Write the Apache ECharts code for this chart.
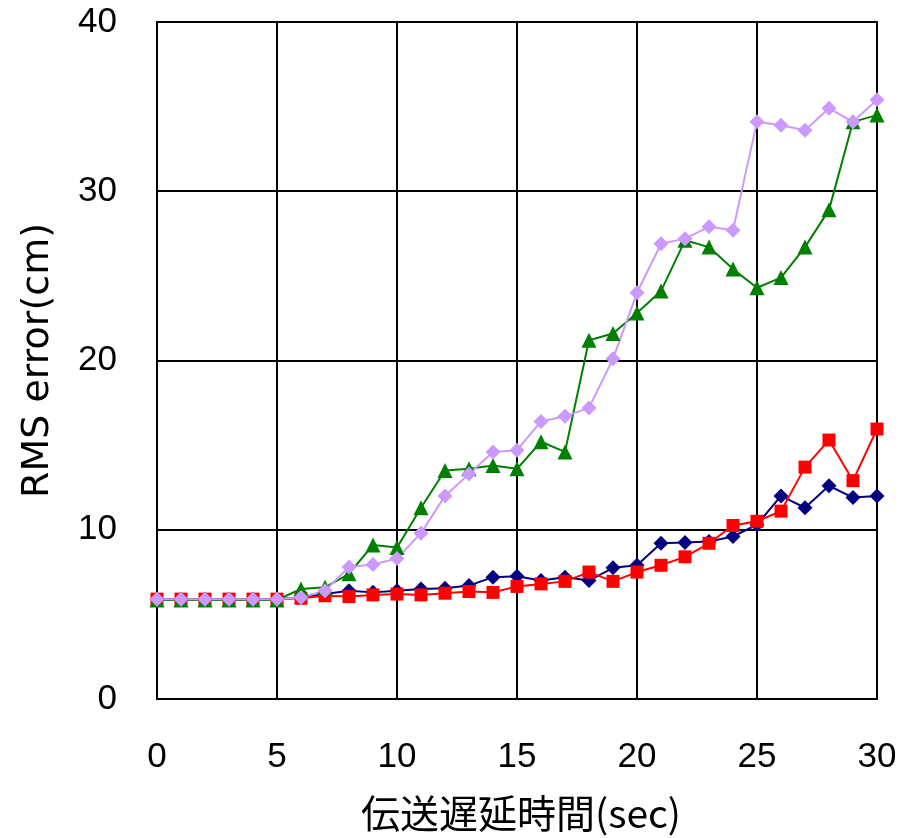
<!DOCTYPE html>
<html><head><meta charset="utf-8">
<script src="https://cdn.jsdelivr.net/npm/echarts@6/dist/echarts.min.js"></script>
<style>html,body{margin:0;padding:0;background:#fff}#c{width:915px;height:838px}</style>
</head><body><div id="c"></div>
<script>
const delays = [0,1,2,3,4,5,6,7,8,9,10,11,12,13,14,15,16,17,18,19,20,21,22,23,24,25,26,27,28,29,30];
const navySeries = [5.9,5.9,5.9,5.9,5.9,5.9,6.0,6.2,6.4,6.3,6.4,6.5,6.55,6.7,7.2,7.25,7.0,7.2,7.0,7.75,7.9,9.2,9.25,9.3,9.6,10.3,12.0,11.3,12.6,11.9,12.0];
const redSeries = [5.9,5.9,5.9,5.9,5.9,5.9,5.95,6.1,6.05,6.15,6.2,6.15,6.25,6.35,6.3,6.65,6.8,6.95,7.5,6.95,7.5,7.9,8.4,9.2,10.25,10.5,11.1,13.7,15.3,12.9,15.95];
const greenSeries = [5.85,5.85,5.85,5.85,5.85,5.85,6.5,6.6,7.4,9.1,8.95,11.3,13.5,13.6,13.8,13.6,15.2,14.6,21.2,21.6,22.8,24.1,27.1,26.7,25.4,24.3,24.9,26.7,28.9,34.1,34.5];
const purpleSeries = [5.9,5.9,5.9,5.9,5.9,5.9,6.0,6.4,7.8,7.95,8.3,9.8,12.0,13.3,14.6,14.7,16.4,16.7,17.2,20.1,24.0,26.9,27.2,27.9,27.7,34.1,33.9,33.6,34.9,34.1,35.4];
const xTicks = [0,5,10,15,20,25,30];
const yTicks = [0,10,20,30,40];
const xName = '伝送遅延時間(sec)';
const yName = 'RMS error(cm)';

const pairs = arr => delays.map((d,i)=>[d, arr[i]]);
const font = '"Liberation Sans","Noto Sans CJK JP",sans-serif';
function mk(name, data, color, symbol, size){
  return {name, type:'line', data:pairs(data), symbol, symbolSize:size, showSymbol:true,
    lineStyle:{color, width:2}, itemStyle:{color}, animation:false, z:2};
}
const chart = echarts.init(document.getElementById('c'));
chart.setOption({
  animation:false,
  grid:{left:157, top:22, right:38, bottom:134},
  xAxis:{type:'value', min:xTicks[0], max:xTicks[xTicks.length-1], interval:5,
    name:xName, nameLocation:'middle', nameGap:95,
    nameTextStyle:{fontSize:39, color:'#000', fontFamily:'"Noto Sans CJK JP",sans-serif', padding:[0,0,0,8]},
    axisLine:{show:true, lineStyle:{color:'#000', width:2}},
    axisTick:{show:false},
    axisLabel:{fontSize:35, color:'#000', margin:41, fontFamily:font},
    splitLine:{show:true, lineStyle:{color:'#000', width:2}}},
  yAxis:{type:'value', min:yTicks[0], max:yTicks[yTicks.length-1], interval:10,
    name:yName, nameLocation:'middle', nameGap:100, nameRotate:90,
    nameTextStyle:{fontSize:38, color:'#000', fontFamily:'"DejaVu Sans",sans-serif'},
    axisLine:{show:true, lineStyle:{color:'#000', width:2}},
    axisTick:{show:false},
    axisLabel:{fontSize:35, color:'#000', margin:40, fontFamily:font},
    splitLine:{show:true, lineStyle:{color:'#000', width:2}}},
  series:[
    mk('s1', navySeries, '#000080', 'diamond', 15),
    mk('s2', redSeries, '#ff0000', 'rect', 13),
    mk('s3', greenSeries, '#008000', 'triangle', 15),
    mk('s4', purpleSeries, '#cc99ff', 'diamond', 15)
  ]
});
(function(){
  const p0 = chart.convertToPixel({gridIndex:0},[0,0]);
  const p1 = chart.convertToPixel({gridIndex:0},[30,40]);
  chart.setOption({graphic:[{type:'rect', shape:{x:p0[0], y:p1[1], width:p1[0]-p0[0], height:p0[1]-p1[1]}, style:{fill:'none', stroke:'#000', lineWidth:2}, z:1, silent:true}]});
})();
</script>
</body></html>
